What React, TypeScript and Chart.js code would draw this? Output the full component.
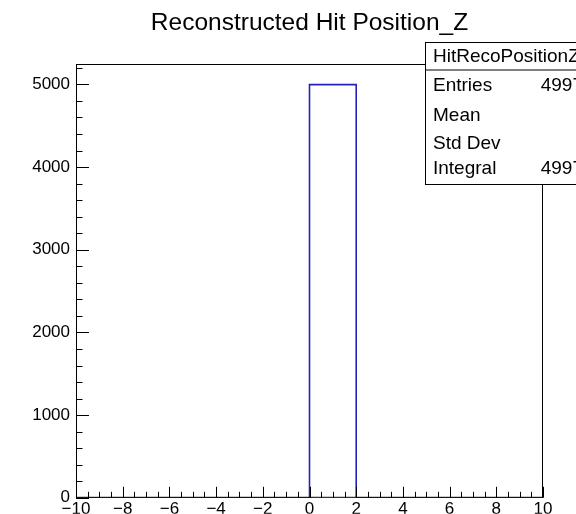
import React, { useEffect, useRef } from "react";
import { Chart, registerables } from "chart.js";

Chart.register(...registerables);

// Histogram: bin edges and contents
const binEdges = [-10, -8, -6, -4, -2, 0, 2, 4, 6, 8, 10];
const binCounts = [0, 0, 0, 0, 0, 4997, 0, 0, 0, 0];

// Axis ranges and tick positions
const xRange = [-10, 10];
const xMajorTicks = [-10, -8, -6, -4, -2, 0, 2, 4, 6, 8, 10];
const xMinorStep = 0.5;
const yRange = [0, 5247];
const yMajorTicks = [0, 1000, 2000, 3000, 4000, 5000];
const yMinorStep = 200;

// Statistics box
const statsName = "HitRecoPositionZ";
const statsLabels = ["Entries", "Mean", "Std Dev", "Integral"];
const statsValues = ["4997", "", "", "4997"];

const titleText = "Reconstructed Hit Position_Z";
const FONT = "'Liberation Sans', Arial, Helvetica, sans-serif";

const framePlugin = {
  id: "rootFrame",
  afterDatasetsDraw(chart: any) {
    const { ctx, chartArea } = chart;
    const xs = chart.scales.x;
    const ys = chart.scales.y;
    const { left, right, top, bottom } = chartArea;
    ctx.save();
    ctx.strokeStyle = "#000";
    ctx.lineWidth = 1;

    // frame
    ctx.strokeRect(left + 0.5, top + 0.5, right - left - 1, bottom - top - 1);

    ctx.beginPath();
    // x ticks, drawn inward from the bottom axis
    for (let v = xRange[0]; v <= xRange[1] + 1e-9; v += xMinorStep) {
      const isMajor = xMajorTicks.some((m) => Math.abs(m - v) < 1e-9);
      const px = Math.round(xs.getPixelForValue(v)) + 0.5;
      const len = isMajor ? 11 : 6;
      ctx.moveTo(px, bottom);
      ctx.lineTo(px, bottom - len);
    }
    // y ticks, drawn inward from the left axis
    for (let v = yRange[0]; v <= yRange[1]; v += yMinorStep) {
      const isMajor = yMajorTicks.some((m) => Math.abs(m - v) < 1e-9);
      const py = Math.round(ys.getPixelForValue(v)) + 0.5;
      const len = isMajor ? 13 : 6.5;
      ctx.moveTo(left, py);
      ctx.lineTo(left + len, py);
    }
    ctx.stroke();
    ctx.restore();
  },
  afterDraw(chart: any) {
    const { ctx } = chart;
    // statistics box (runs past the right canvas edge)
    const bx = 425.5;
    const by = 42.5;
    const bw = 200;
    const bh = 142;
    const headerH = 27.5;
    ctx.save();
    ctx.fillStyle = "#fff";
    ctx.fillRect(bx, by, bw, bh);
    ctx.strokeStyle = "#000";
    ctx.lineWidth = 1;
    ctx.strokeRect(bx, by, bw, bh);
    ctx.beginPath();
    ctx.moveTo(bx, by + headerH);
    ctx.lineTo(bx + bw, by + headerH);
    ctx.stroke();

    ctx.fillStyle = "#000";
    ctx.font = `19px ${FONT}`;
    ctx.textBaseline = "middle";
    ctx.textAlign = "left";
    ctx.fillText(statsName, 433, by + headerH / 2 + 0.5);
    const rowCenters = [86, 116, 144, 169];
    statsLabels.forEach((lab, i) => {
      const cy = rowCenters[i];
      ctx.textAlign = "left";
      ctx.fillText(lab, 433, cy);
      if (statsValues[i]) {
        ctx.textAlign = "right";
        ctx.fillText(statsValues[i], 583, cy);
      }
    });
    ctx.restore();
  },
};

export default function App() {
  const canvasRef = useRef<HTMLCanvasElement | null>(null);

  useEffect(() => {
    const canvas = canvasRef.current;
    if (!canvas) return;

    const points = binCounts.map((c, i) => ({ x: binEdges[i], y: c }));
    points.push({ x: binEdges[binEdges.length - 1], y: binCounts[binCounts.length - 1] });

    const chart = new Chart(canvas, {
      type: "line",
      data: {
        datasets: [
          {
            data: points,
            borderColor: "#2222bb",
            borderWidth: 1.6,
            pointRadius: 0,
            fill: false,
            stepped: "before",
            tension: 0,
          },
        ],
      },
      options: {
        responsive: false,
        animation: false,
        devicePixelRatio: 1,
        events: [],
        layout: { padding: { left: 0, right: 33, top: 0, bottom: 0 } },
        plugins: {
          legend: { display: false },
          tooltip: { enabled: false },
          title: {
            display: true,
            text: titleText,
            color: "#000",
            fullSize: false,
            font: { family: FONT, size: 24.5, weight: "normal", lineHeight: 1.2 },
            padding: { top: 9, bottom: 25.6 },
          },
        },
        scales: {
          x: {
            type: "linear",
            min: xRange[0],
            max: xRange[1],
            grid: { display: false, drawTicks: false, tickLength: 0 },
            border: { display: false },
            afterFit: (s: any) => {
              s.height = 16;
            },
            afterBuildTicks: (s: any) => {
              s.ticks = xMajorTicks.map((v) => ({ value: v }));
            },
            ticks: {
              color: "#000",
              padding: 1,
              maxRotation: 0,
              autoSkip: false,
              font: { family: FONT, size: 17 },
              callback: (v: any) => (v < 0 ? "\u2212" + Math.abs(v) : String(v)),
            },
          },
          y: {
            type: "linear",
            min: yRange[0],
            max: yRange[1],
            grid: { display: false, drawTicks: false, tickLength: 0 },
            border: { display: false },
            afterFit: (s: any) => {
              s.width = 76;
            },
            afterBuildTicks: (s: any) => {
              s.ticks = yMajorTicks.map((v) => ({ value: v }));
            },
            ticks: {
              color: "#000",
              padding: 6,
              autoSkip: false,
              font: { family: FONT, size: 17 },
              callback: (v: any) => String(v),
            },
          },
        },
      },
      plugins: [framePlugin],
    });

    return () => chart.destroy();
  }, []);

  return (
    <div style={{ position: "absolute", left: 0, top: 0, width: 576, height: 514, background: "#fff" }}>
      <canvas ref={canvasRef} width={576} height={514} />
    </div>
  );
}
